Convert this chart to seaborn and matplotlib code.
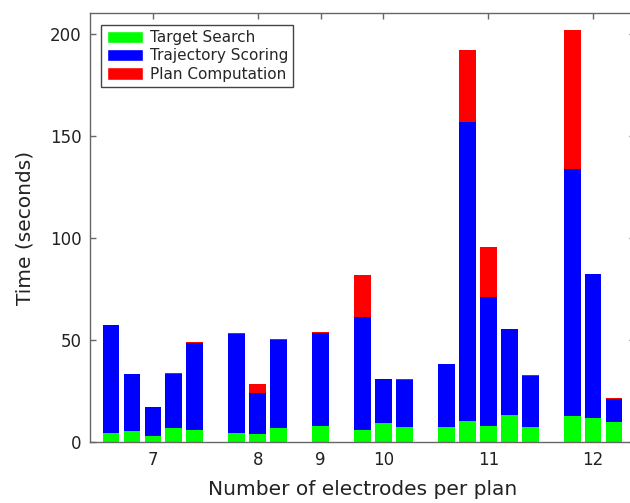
import matplotlib
matplotlib.use("Agg")
from matplotlib import pyplot as plt
from matplotlib.patches import Patch
import numpy as np
import pandas as pd
import seaborn as sns

# one entry per plan, grouped by number of electrodes
electrodes = [7, 7, 7, 7, 7, 8, 8, 8, 9, 10, 10, 10, 11, 11, 11, 11, 11, 12, 12, 12]
target_search = [4.7, 5.7, 3.2, 6.9, 6.0, 4.4, 3.9, 7.1, 8.2, 6.2, 9.6, 7.6,
                 7.5, 10.6, 8.0, 13.4, 7.6, 12.9, 11.7, 9.9]
trajectory_scoring = [52.7, 27.9, 14.1, 26.7, 42.8, 48.6, 20.2, 42.8, 45.1, 55.0, 21.2, 23.0,
                      31.0, 146.3, 63.3, 41.9, 24.9, 120.9, 70.5, 11.4]
plan_computation = [0.0, 0.0, 0.0, 0.3, 0.3, 0.6, 4.4, 0.5, 0.9, 20.7, 0.0, 0.5,
                    0.0, 35.3, 24.3, 0.0, 0.3, 67.9, 0.3, 0.3]
group_labels = ["7", "8", "9", "10", "11", "12"]

colors = {"target": "#00ff00", "traj": "#0000ff", "plan": "#ff0000"}

df = pd.DataFrame({
    "electrodes": electrodes,
    "target": target_search,
    "traj": trajectory_scoring,
    "plan": plan_computation,
})

# slot positions: bars next to each other inside a group, one empty slot between groups
slots = []
pos = 0
prev = None
for e in df["electrodes"]:
    if prev is not None and e != prev:
        pos += 1
    slots.append(pos)
    pos += 1
    prev = e
df["slot"] = slots
df["lvl1"] = df["target"]
df["lvl2"] = df["target"] + df["traj"]
df["lvl3"] = df["lvl2"] + df["plan"]
group_centers = df.groupby("electrodes")["slot"].mean().values

sns.set_style("ticks")
plt.rcParams["font.family"] = ["DejaVu Sans"]

fig = plt.figure(figsize=(6.3, 5.03), dpi=100)
ax = fig.add_axes([90 / 630, (503 - 442.3) / 503, 545 / 630, 429 / 503])

# draw the stacks back to front: full total, then traj+target, then target
for col, c in [("lvl3", colors["plan"]), ("lvl2", colors["traj"]), ("lvl1", colors["target"])]:
    sns.barplot(data=df, x="slot", y=col, color=c, native_scale=True, errorbar=None,
                width=0.8, saturation=1, linewidth=0, ax=ax)

ax.set_xlim(-1, 25)
ax.set_ylim(0, 210)
ax.set_xticks(group_centers)
ax.set_xticklabels(group_labels)
ax.set_yticks([0, 50, 100, 150, 200])
ax.tick_params(direction="in", top=True, right=True, length=4, width=1,
               color="#666666", labelsize=12, labelcolor="#222222", pad=6)
for s in ax.spines.values():
    s.set_color("#666666")
    s.set_linewidth(1)
ax.set_xlabel("Number of electrodes per plan", fontsize=14.5, color="#222222", labelpad=8)
ax.set_ylabel("Time (seconds)", fontsize=14.5, color="#222222", labelpad=11)

handles = [Patch(facecolor=colors["target"], label="Target Search"),
           Patch(facecolor=colors["traj"], label="Trajectory Scoring"),
           Patch(facecolor=colors["plan"], label="Plan Computation")]
leg = ax.legend(handles=handles, loc="upper left", fontsize=11, fancybox=False,
                framealpha=1, edgecolor="#444444", handlelength=2.4, handleheight=0.85,
                labelspacing=0.22, borderaxespad=0.75, handletextpad=0.4, borderpad=0.35)
leg.get_frame().set_linewidth(1)

fig.savefig("out.png", dpi=100)
